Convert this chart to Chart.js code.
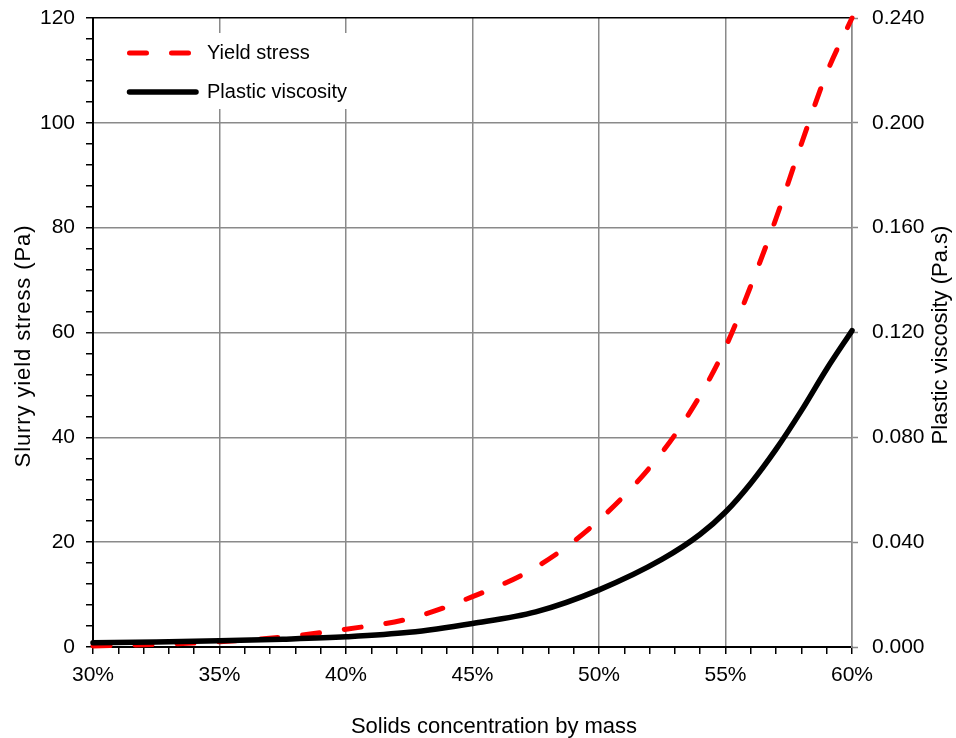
<!DOCTYPE html>
<html><head><meta charset="utf-8">
<script src="https://cdn.jsdelivr.net/npm/chart.js@4.4.1/dist/chart.umd.min.js"></script>
<style>html,body{margin:0;padding:0;background:#fff;}</style>
</head><body>
<canvas id="c" width="956" height="738"></canvas>
<script>
// ---- data ----
const solidsPct = [30, 32.5, 35, 37.5, 40, 42.5, 45, 47.5, 50, 52.5, 54, 55, 56, 57, 58, 59, 60];
const yieldStress = [0.2, 0.5, 1.0, 1.9, 3.4, 5.4, 9.6, 15.2, 24.2, 37.2, 48.0, 57.2, 68.9, 81.8, 96.0, 109.5, 120];
const plasticViscosity = [0.0016, 0.0019, 0.0024, 0.0030, 0.0039, 0.0056, 0.0090, 0.0134, 0.0218, 0.0335, 0.0430, 0.0515, 0.0625, 0.0755, 0.0902, 0.1061, 0.1207];
const seriesNames = ['Yield stress', 'Plastic viscosity'];
const xTitle = 'Solids concentration by mass';
const yTitle = 'Slurry yield stress (Pa)';
const y1Title = 'Plastic viscosity (Pa.s)';
const xRange = [30, 60];
const yRange = [0, 120];
const y1Range = [0, 0.24];

const FONT = 'Liberation Sans, Arial, sans-serif';
const GRID = '#8a8a8a';

const legendAndTitles = {
  id: 'legendAndTitles',
  afterDraw(chart) {
    const ctx = chart.ctx;
    ctx.save();
    // legend box (inside plot, white background)
    ctx.fillStyle = '#fff';
    ctx.fillRect(112, 33, 248, 76);
    const rows = [53, 92];
    chart.data.datasets.forEach((ds, i) => {
      const y = rows[i];
      ctx.beginPath();
      ctx.strokeStyle = ds.borderColor;
      ctx.lineWidth = ds.borderWidth;
      ctx.lineCap = 'round';
      ctx.setLineDash(ds.borderDash || []);
      ctx.moveTo(129.5, y);
      ctx.lineTo(i === 0 ? 191 : 196, y);
      ctx.stroke();
      ctx.setLineDash([]);
      ctx.fillStyle = '#000';
      ctx.font = '20px ' + FONT;
      ctx.textBaseline = 'middle';
      ctx.textAlign = 'left';
      ctx.fillText(ds.label, 207, y);
    });
    // axis titles
    ctx.fillStyle = '#000';
    ctx.font = '22px ' + FONT;
    ctx.textAlign = 'center';
    ctx.textBaseline = 'alphabetic';
    ctx.fillText(xTitle, 494, 733);
    ctx.save();
    ctx.translate(30, 346);
    ctx.rotate(-Math.PI / 2);
    if ('letterSpacing' in ctx) ctx.letterSpacing = '0.9px';
    ctx.fillText(yTitle, 0, 0);
    if ('letterSpacing' in ctx) ctx.letterSpacing = '0px';
    ctx.restore();
    ctx.save();
    ctx.translate(947, 335);
    ctx.rotate(-Math.PI / 2);
    ctx.fillText(y1Title, 0, 0);
    ctx.restore();
    ctx.restore();
  }
};

function noEdgePadding(s) {
  s.paddingTop = 0; s.paddingBottom = 0; s.paddingLeft = 0; s.paddingRight = 0;
}

new Chart(document.getElementById('c'), {
  type: 'line',
  data: {
    datasets: [
      {
        label: seriesNames[0],
        data: solidsPct.map((x, i) => ({x, y: yieldStress[i]})),
        yAxisID: 'y',
        borderColor: '#ff0000',
        borderWidth: 5,
        borderDash: [17, 25],
        borderCapStyle: 'round',
        pointRadius: 0,
        cubicInterpolationMode: 'monotone',
        clip: false,
        order: 1
      },
      {
        label: seriesNames[1],
        data: solidsPct.map((x, i) => ({x, y: plasticViscosity[i]})),
        yAxisID: 'y1',
        borderColor: '#000000',
        borderWidth: 5.5,
        borderCapStyle: 'round',
        pointRadius: 0,
        cubicInterpolationMode: 'monotone',
        clip: false,
        order: 0
      }
    ]
  },
  options: {
    responsive: false,
    devicePixelRatio: 1,
    animation: false,
    layout: {padding: {top: 18, left: 0, right: 0, bottom: 0}},
    plugins: {legend: {display: false}, tooltip: {enabled: false}, title: {display: false}},
    scales: {
      x: {
        type: 'linear', min: xRange[0], max: xRange[1],
        afterFit(s) { s.height = 91; noEdgePadding(s); },
        ticks: {
          stepSize: 1, autoSkip: false, maxRotation: 0, padding: 9,
          color: '#000', font: {family: FONT, size: 21},
          callback: v => (v % 5 === 0 ? v + '%' : '')
        },
        grid: {
          color: c => (c.tick && c.tick.value % 5 === 0 ? GRID : 'rgba(0,0,0,0)'),
          lineWidth: 1.5,
          tickColor: '#000', tickWidth: 1.5, tickLength: 7
        },
        border: {color: '#000', width: 2}
      },
      y: {
        type: 'linear', position: 'left', min: yRange[0], max: yRange[1],
        afterFit(s) { s.width = 93; noEdgePadding(s); },
        ticks: {
          stepSize: 4, autoSkip: false, padding: 11,
          color: '#000', font: {family: FONT, size: 21},
          callback: v => (v % 20 === 0 ? String(v) : '')
        },
        grid: {
          color: c => (c.tick && c.tick.value === 120 ? '#000' : (c.tick && c.tick.value % 20 === 0 ? GRID : 'rgba(0,0,0,0)')),
          lineWidth: 1.5,
          tickColor: '#000', tickWidth: 1.5, tickLength: 7
        },
        border: {color: '#000', width: 2}
      },
      y1: {
        type: 'linear', position: 'right', min: y1Range[0], max: y1Range[1],
        afterFit(s) { s.width = 104; noEdgePadding(s); },
        ticks: {
          stepSize: 0.04, autoSkip: false, padding: 14,
          color: '#000', font: {family: FONT, size: 21},
          callback: v => Number(v).toFixed(3)
        },
        grid: {drawOnChartArea: false, tickColor: GRID, tickWidth: 1.5, tickLength: 6},
        border: {color: GRID, width: 1.5}
      }
    }
  },
  plugins: [legendAndTitles]
});
</script>
</body></html>
